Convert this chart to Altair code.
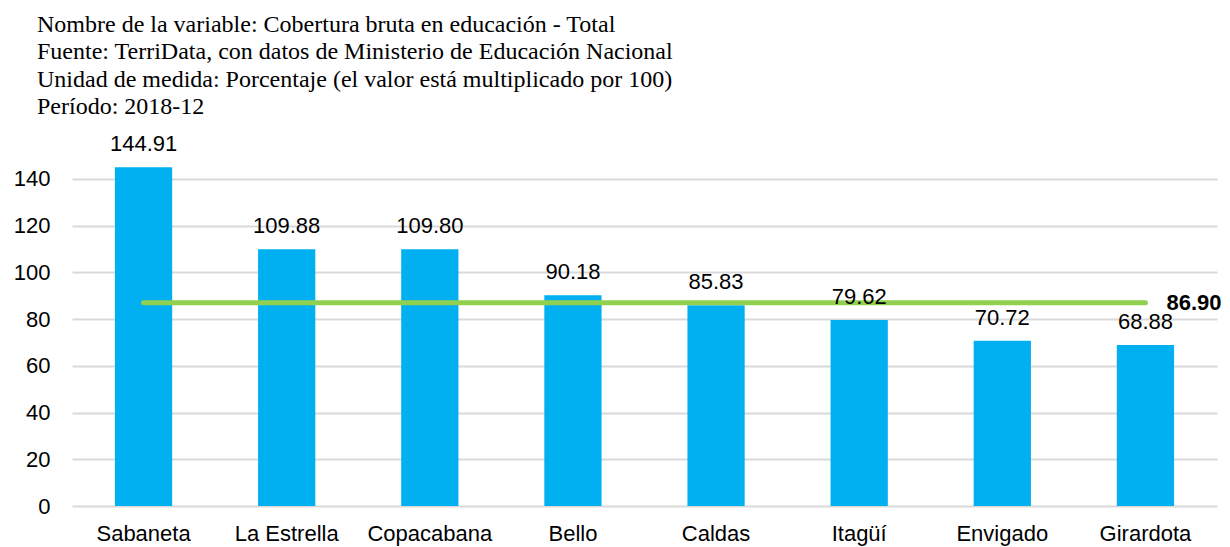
import altair as alt
import pandas as pd

categories = ["Sabaneta", "La Estrella", "Copacabana", "Bello", "Caldas", "Itagüí", "Envigado", "Girardota"]
values = [144.91, 109.88, 109.80, 90.18, 85.83, 79.62, 70.72, 68.88]
average_value = 86.90
y_ticks = [0, 20, 40, 60, 80, 100, 120, 140]
title_lines = [
    "Nombre de la variable: Cobertura bruta en educación - Total",
    "Fuente: TerriData, con datos de Ministerio de Educación Nacional",
    "Unidad de medida: Porcentaje (el valor está multiplicado por 100)",
    "Período: 2018-12",
]

df = pd.DataFrame({
    "municipio": categories,
    "valor": values,
    "etiqueta": [f"{v:.2f}" for v in values],
})
avg_df = pd.DataFrame({
    "municipio": [categories[0], categories[-1]],
    "valor": [average_value, average_value],
})
avg_label_df = pd.DataFrame({
    "municipio": [categories[-1]],
    "valor": [average_value],
    "etiqueta": [f"{average_value:.2f}"],
})

FONT = "Liberation Sans"

x = alt.X(
    "municipio:N",
    sort=categories,
    scale=alt.Scale(paddingInner=0.6, paddingOuter=0.3),
    axis=alt.Axis(
        title=None, labelAngle=0, domain=False, ticks=False, tickSize=0,
        labelPadding=17, labelFontSize=22, labelFont=FONT, labelColor="black",
    ),
)
y = alt.Y(
    "valor:Q",
    scale=alt.Scale(domain=[0, 160], nice=False, zero=True),
    axis=alt.Axis(
        title=None, values=y_ticks, domain=False, ticks=False, tickSize=0,
        labelPadding=22, labelFontSize=22, labelFont=FONT, labelColor="black",
        grid=True, gridColor="#D9D9D9", gridWidth=2,
    ),
)

bars = alt.Chart(df).mark_bar(color="#00B0F0").encode(x=x, y=y)

avg_line = alt.Chart(avg_df).mark_line(
    color="#92D050", strokeWidth=5, strokeCap="round"
).encode(x=x, y=y)

bar_labels = alt.Chart(df).mark_text(
    dy=-16, baseline="alphabetic", align="center", fontSize=22, font=FONT, color="black"
).encode(x=x, y=y, text="etiqueta:N")

avg_label = alt.Chart(avg_label_df).mark_text(
    align="left", baseline="middle", dx=21, fontSize=22, font=FONT,
    fontWeight="bold", color="black"
).encode(x=x, y=y, text="etiqueta:N")

chart = alt.layer(bars, avg_line, bar_labels, avg_label).properties(
    width=1145,
    height=374,
    autosize=alt.AutoSizeParams(type="none"),
    padding={"left": 64, "top": 124, "right": 5, "bottom": 41},
    title=alt.TitleParams(
        text=title_lines, anchor="start", frame="group", font="Liberation Serif",
        fontSize=24, fontWeight="normal", color="black", lineHeight=27.5,
        dx=-35, offset=13,
    ),
).configure_view(stroke=None)

chart.save("out.html", embed_options={"renderer": "svg", "actions": False})
